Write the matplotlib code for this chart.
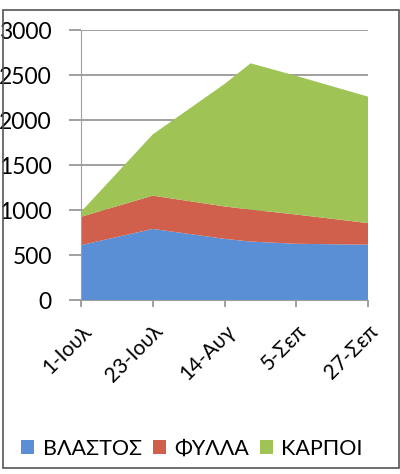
import matplotlib
matplotlib.use("Agg")
import matplotlib.pyplot as plt
import matplotlib.dates as mdates
from matplotlib.patches import Rectangle
import numpy as np

# sampling dates and dry weight per plant part
dates = ["2013-07-01", "2013-07-23", "2013-08-14", "2013-08-22", "2013-09-05", "2013-09-27"]
vlastos = [610, 790, 680, 650, 625, 615]
fylla = [315, 370, 360, 355, 325, 240]
karpoi = [55, 680, 1360, 1625, 1540, 1405]

series_names = ["ΒΛΑΣΤΟΣ", "ΦΥΛΛΑ", "ΚΑΡΠΟΙ"]
colors = ["#5a8fd6", "#d0604c", "#9fc455"]

tick_dates = ["2013-07-01", "2013-07-23", "2013-08-14", "2013-09-05", "2013-09-27"]
tick_labels = ["1-Ιουλ", "23-Ιουλ", "14-Αυγ", "5-Σεπ", "27-Σεπ"]
yticks = [0, 500, 1000, 1500, 2000, 2500, 3000]

plt.rcParams['font.family'] = ['Lato', 'DejaVu Sans']

fig = plt.figure(figsize=(4.0, 4.74), dpi=100)
ax = fig.add_axes([0.2025, 0.367, 0.7175, 0.5697])

x = mdates.datestr2num(dates)
polys = ax.stackplot(x, vlastos, fylla, karpoi, colors=colors, labels=series_names, zorder=2)

xt = mdates.datestr2num(tick_dates)
ax.set_xlim(xt[0], xt[-1])
ax.set_ylim(0, 3000)
ax.set_xticks(xt)
ax.set_xticklabels(tick_labels, rotation=45, ha='right', rotation_mode='anchor', fontsize=15)
ax.set_yticks(yticks)
ax.set_yticklabels([str(v) for v in yticks], fontsize=16.5)

ax.yaxis.grid(True, color='#a0a0a0', linewidth=1.4, zorder=1)
ax.set_axisbelow(True)
for s in ['top', 'right']:
    ax.spines[s].set_visible(False)
ax.spines['left'].set_color('#a0a0a0')
ax.spines['bottom'].set_color('#a0a0a0')
ax.tick_params(axis='y', length=9, width=1.4, color='#a0a0a0', pad=12)
ax.tick_params(axis='x', length=5, width=1.4, color='#a0a0a0', pad=10)

fig.legend(handles=polys, labels=series_names, loc='center', bbox_to_anchor=(0.48, 0.053),
           ncol=3, frameon=False, fontsize=15.5, handlelength=0.6, handleheight=0.6,
           handletextpad=0.4, columnspacing=0.5)

# border of the scanned chart box
fig.patches.append(Rectangle((0.008, 0.012), 0.99, 0.967, transform=fig.transFigure,
                             fill=False, edgecolor='#555555', linewidth=1.2))

fig.savefig("out.png", dpi=100)
